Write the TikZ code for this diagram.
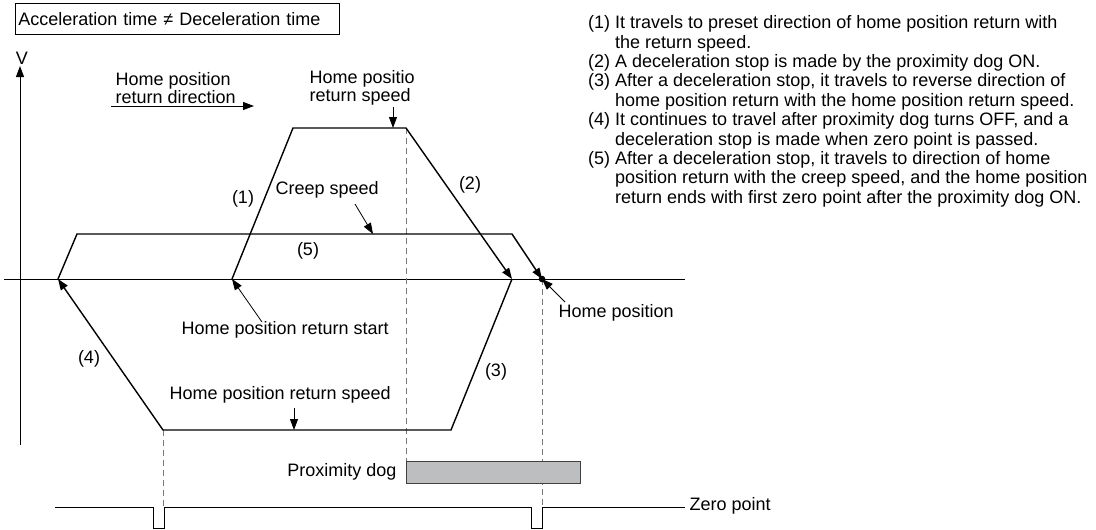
\documentclass[tikz,border=0pt]{standalone}
\usepackage{fontspec}
\setmainfont{Liberation Sans}
\usetikzlibrary{arrows.meta}
\definecolor{dogfill}{RGB}{189,190,192}
\definecolor{guidegray}{RGB}{120,120,120}

\begin{document}
\begin{tikzpicture}[x=1pt, y=-1pt, font=\fontsize{18}{19}\selectfont,
  velo/.style={line width=1.4pt, line join=miter},
  tip/.style={-{Triangle[length=11pt, width=8pt]}},
  lead/.style={line width=0.8pt, -{Triangle[length=11pt, width=8pt]}},
  guide/.style={guidegray, line width=0.9pt, dash pattern=on 6pt off 4pt}]

\useasboundingbox (0,0) rectangle (1096,530);

% 标题框
\node[draw, line width=0.8pt, anchor=north west, inner xsep=3pt, text width=318pt,
  minimum height=31pt, align=left] (title) at (15,3)
  {Acceleration time ≠ Deceleration time};

% 坐标轴
\coordinate (O) at (20,279);
\coordinate (Vtop) at (20,66);
\coordinate (Vbot) at (20,445);
\coordinate (Xl) at (4,279);
\coordinate (Xr) at (685,279);
\draw[line width=1pt, tip] (Vbot) -- (Vtop);
\draw[line width=1pt] (Xl) -- (Xr);
\node (V) at (22,58) {V};

% 速度曲线的各点
\coordinate (S)  at (232,279);  % 起点
\coordinate (A1) at (293,128);
\coordinate (A2) at (406,128);
\coordinate (D1) at (512,279);
\coordinate (B2) at (451,430);
\coordinate (B1) at (163,430);
\coordinate (D2) at (58,279);
\coordinate (C1) at (77,234);
\coordinate (C2) at (512,234);
\coordinate (H)  at (542,279);  % 原点位置

% 虚线
\draw[guide] (A2) -- (406,461);
\draw[guide] (H) -- (542,507);
\draw[guide] (B1) -- (163,507);

% 近点狗
\filldraw[fill=dogfill, draw=black!75, line width=1pt] (406,461) rectangle (580,483);
\node[anchor=east] (dog) at (400,472) {Proximity dog};

% 零点信号
\draw[line width=1pt] (55,507) -- (153,507) -- (153,528) -- (164,528) -- (164,507)
  -- (531,507) -- (531,528) -- (542,528) -- (542,507) -- (685,507);
\node[anchor=west] (zero) at (686,506) {Zero point};

% 曲线 (1)(2)、(3)(4)、(5)
\draw[velo, tip] (S) -- (A1) -- (A2) -- (D1);
\draw[velo, tip] (D1) -- (B2) -- (B1) -- (D2);
\draw[velo, tip] (D2) -- (C1) -- (C2) -- (H);
\fill (H) circle [radius=3.3];

% 方向
\node[anchor=west, align=left, font=\fontsize{18}{16}\selectfont] (dir) at (112,88)
  {Home position\\return direction};
\coordinate (dirL) at (111,106);
\coordinate (dirR) at (254,106);
\draw[line width=1pt, tip] (dirL) -- (dirR);

% 标注
\node[anchor=west, align=left, font=\fontsize{18}{16}\selectfont] (hspd) at (306,88)
  {Home positio\\return speed};
\coordinate (hspdT) at (393,107);
\draw[lead] (hspdT) -- (393,128);

\node (n1) at (243,199) {(1)};
\node (n2) at (470,185) {(2)};
\node (n3) at (496,372) {(3)};
\node (n4) at (89,359) {(4)};
\node (n5) at (308,251) {(5)};

\node[anchor=west] (creep) at (272,190) {Creep speed};
\coordinate (creepT) at (355,204);
\draw[lead] (creepT) -- (373,234);

\node[anchor=west] (start) at (178,330) {Home position return start};
\coordinate (startT) at (262,322);
\draw[lead] (startT) -- (S);

\node[anchor=west] (rspd) at (166,395) {Home position return speed};
\coordinate (rspdT) at (294,408);
\draw[lead] (rspdT) -- (294,430);

\node[anchor=west] (home) at (555,313) {Home position};
\coordinate (homeT) at (565,302);
\draw[lead] (homeT) -- (H);

% 说明文字
\node[anchor=north west, inner sep=0pt, align=left,
  font=\fontsize{18}{19.4}\selectfont] (notes) at (588,15)
  {\begin{tabular}{@{}l@{\ }l@{}}
   (1) & It travels to preset direction of home position return with\\
       & the return speed.\\
   (2) & A deceleration stop is made by the proximity dog ON.\\
   (3) & After a deceleration stop, it travels to reverse direction of\\
       & home position return with the home position return speed.\\
   (4) & It continues to travel after proximity dog turns OFF, and a\\
       & deceleration stop is made when zero point is passed.\\
   (5) & After a deceleration stop, it travels to direction of home\\
       & position return with the creep speed, and the home position\\
       & return ends with first zero point after the proximity dog ON.
   \end{tabular}};

\end{tikzpicture}
\end{document}
